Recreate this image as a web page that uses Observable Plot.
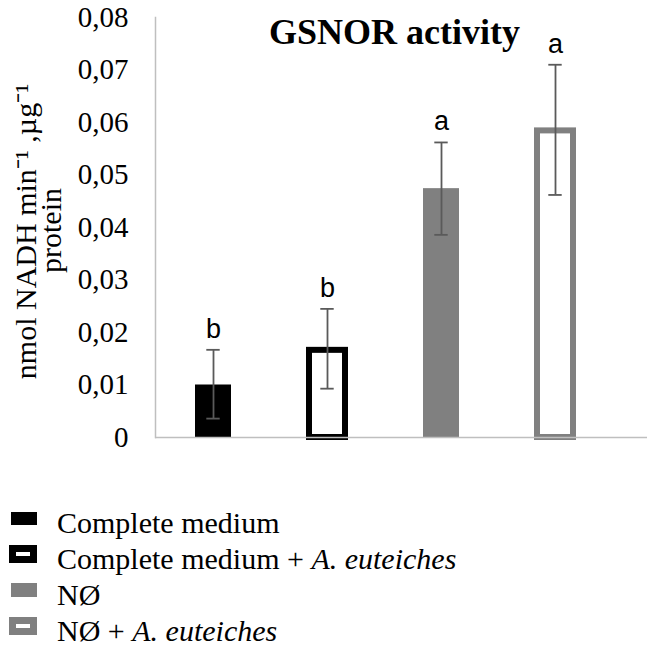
<!DOCTYPE html>
<html><head><meta charset="utf-8">
<script src="https://cdn.jsdelivr.net/npm/d3@7"></script>
<script src="https://cdn.jsdelivr.net/npm/@observablehq/plot@0.6"></script>
<style>
html,body{margin:0;background:#fff;font-family:"Liberation Serif","Times New Roman",serif;overflow:hidden;}
#chart{width:653px;height:470px;}
#legend{margin-top:35px;}
.row{position:relative;height:28px;line-height:28px;padding-top:4px;margin-bottom:4px;font-size:30px;padding-left:57px;white-space:nowrap;color:#000;}
.sw{position:absolute;box-sizing:border-box;}
</style></head><body>
<div id="chart"></div>
<div id="legend"></div>
<script>
const categories = ["Complete medium", "Complete medium + A. euteiches", "NØ", "NØ + A. euteiches"];
const values = [0.0100, 0.0166, 0.0474, 0.0584];
const errLow = [0.0036, 0.0093, 0.0386, 0.0462];
const errHigh = [0.0167, 0.0245, 0.0562, 0.0710];
const letters = ["b", "b", "a", "a"];
const yTicks = [0, 0.01, 0.02, 0.03, 0.04, 0.05, 0.06, 0.07, 0.08];
const fills = ["#000000", "#ffffff", "#808080", "#ffffff"];
const strokes = ["none", "#000000", "none", "#808080"];
const legendHtml = ["Complete medium", "Complete medium + <i>A. euteiches</i>", "NØ", "NØ + <i>A. euteiches</i>"];
const titleText = "GSNOR activity";
const yLabel1 = "nmol NADH min\u207B\u00B9 ,\u00B5g\u207B\u00B9";
const yLabel2 = "protein";

const serif = "'Liberation Serif', 'Times New Roman', serif";
const fmt = d => d === 0 ? "0" : d.toFixed(2).replace(".", ",");
const data = categories.map((c, i) => ({c, v: values[i], lo: errLow[i], hi: errHigh[i], l: letters[i], fill: fills[i], stroke: strokes[i]}));

const chart = Plot.plot({
  width: 653, height: 470,
  marginTop: 17, marginBottom: 33, marginLeft: 155, marginRight: 6,
  x: {domain: categories, range: [155, 613], paddingInner: 0.688, paddingOuter: 0.344, axis: null},
  y: {domain: [0, 0.08], axis: null},
  color: {type: "identity"},
  style: {fontFamily: serif, color: "#000", background: "#fff", overflow: "visible"},
  marks: [
    Plot.axisY({ticks: yTicks, tickFormat: fmt, tickSize: 0, tickPadding: 27, label: null, fontSize: 29, fontFamily: serif, fill: "#000"}),
    Plot.barY(data, {x: "c", y: "v", fill: "fill", stroke: "stroke", strokeWidth: 6}),
    Plot.ruleY([0], {stroke: "#bfbfbf", strokeWidth: 1.5}),
    Plot.frame({anchor: "left", stroke: "#bfbfbf", strokeWidth: 1.5}),
    Plot.ruleX(data, {x: "c", y1: "lo", y2: "hi", stroke: "#5a5a5a", strokeWidth: 1.8}),
    Plot.tickY(data, {x: "c", y: "lo", stroke: "#5a5a5a", strokeWidth: 1.8, insetLeft: 11.3, insetRight: 11.3}),
    Plot.tickY(data, {x: "c", y: "hi", stroke: "#5a5a5a", strokeWidth: 1.8, insetLeft: 11.3, insetRight: 11.3}),
    Plot.text(data, {x: "c", y: "hi", text: "l", lineAnchor: "bottom", dy: -12, fontFamily: "'Liberation Sans', Arial, sans-serif", fontSize: 27, fill: "#000"}),
    Plot.text([titleText], {frameAnchor: "top", textAnchor: "middle", lineAnchor: "bottom", dx: -7, dy: 26, fontFamily: serif, fontWeight: "bold", fontSize: 36, fill: "#000"}),
    Plot.text([yLabel1], {frameAnchor: "left", textAnchor: "middle", rotate: -90, lineAnchor: "bottom", dx: -120, dy: 4, fontFamily: serif, fontSize: 30, fill: "#000"}),
    Plot.text([yLabel2], {frameAnchor: "left", textAnchor: "middle", rotate: -90, lineAnchor: "bottom", dx: -95, dy: 3, fontFamily: serif, fontSize: 30, fill: "#000"})
  ]
});
document.getElementById("chart").appendChild(chart);

const legend = document.getElementById("legend");
legendHtml.forEach((t, i) => {
  const row = document.createElement("div");
  row.className = "row";
  const sw = document.createElement("div");
  sw.className = "sw";
  const outlined = strokes[i] !== "none";
  const col = outlined ? strokes[i] : fills[i];
  if (outlined) {
    sw.style.cssText = `left:9px;top:4px;width:28px;height:18px;background:#fff;border:7px solid ${col};`;
  } else {
    sw.style.cssText = `left:11px;top:${i === 0 ? 7 : 6}px;width:26px;height:${i === 0 ? 13 : 14}px;background:${col};`;
  }
  row.appendChild(sw);
  const span = document.createElement("span");
  span.innerHTML = t;
  row.appendChild(span);
  legend.appendChild(row);
});
</script>
</body></html>
